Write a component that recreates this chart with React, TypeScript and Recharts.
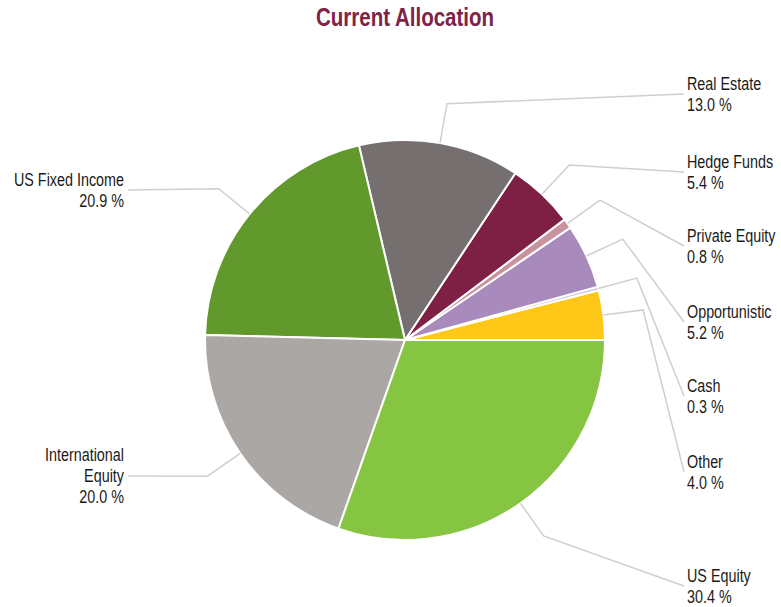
import React from 'react';
import { PieChart, Pie, Cell } from 'recharts';

// slices in drawing order, counter-clockwise from 3 o'clock
const names = [
  'Other',
  'Cash',
  'Opportunistic',
  'Private Equity',
  'Hedge Funds',
  'Real Estate',
  'US Fixed Income',
  'International\nEquity',
  'US Equity',
];
const values = [4.0, 0.3, 5.2, 0.8, 5.4, 13.0, 20.9, 20.0, 30.4];
const colors = [
  '#FFC819',
  '#D6C6E0',
  '#A88BBC',
  '#C8939E',
  '#7E2043',
  '#756F6F',
  '#62992D',
  '#ABA7A5',
  '#86C541',
];

// where each label's leader line ends
const labelY = [472, 396, 322, 246, 172, 94, 190, 476, 586];
const RIGHT_X = 684;
const LEFT_X = 128;

// no narrow font installed, so squeeze Liberation Sans horizontally
const FONT = "'Liberation Sans', Arial, sans-serif";
const NARROW = 0.82;
const RADIAN = Math.PI / 180;

const data = names.map((name, i) => ({ name, value: values[i] }));

const renderLabel = (props: any) => {
  const { cx, cy, midAngle, outerRadius, index } = props;
  const cos = Math.cos(-midAngle * RADIAN);
  const sin = Math.sin(-midAngle * RADIAN);
  const sx = cx + outerRadius * cos;
  const sy = cy + outerRadius * sin;
  const mx = cx + (outerRadius + 40) * cos;
  const my = cy + (outerRadius + 40) * sin;
  const right = cos >= 0;
  const ex = right ? RIGHT_X : LEFT_X;
  const ey = labelY[index];
  const lines = [...names[index].split('\n'), `${values[index].toFixed(1)} %`];
  const step = 21;
  const top = ey - ((lines.length - 1) * step) / 2;
  const tx = right ? ex + 3 : ex - 4;
  return (
    <g key={`lbl-${index}`}>
      <polyline
        points={`${sx},${sy} ${mx},${my} ${ex},${ey}`}
        fill="none"
        stroke="#CFCFCF"
        strokeWidth={1.5}
      />
      {lines.map((ln, j) => (
        <text
          key={j}
          x={0}
          y={0}
          transform={`translate(${tx},${top + j * step}) scale(${NARROW},1)`}
          textAnchor={right ? 'start' : 'end'}
          dominantBaseline="central"
          fill="#1a1a1a"
          fontSize={17.5}
          fontFamily={FONT}
        >
          {ln}
        </text>
      ))}
    </g>
  );
};

const App: React.FC = () => {
  return (
    <div style={{ position: 'absolute', left: 0, top: 0, width: 781, height: 607, background: '#fff' }}>
      <div
        style={{
          position: 'absolute',
          left: 0,
          width: 810,
          top: 3,
          textAlign: 'center',
          fontFamily: FONT,
          fontWeight: 'bold',
          fontSize: 25,
          color: '#7D2348',
          transform: `scaleX(${NARROW})`,
          transformOrigin: '405px 0',
        }}
      >
        Current Allocation
      </div>
      <PieChart width={781} height={607} margin={{ top: 0, right: 0, bottom: 0, left: 0 }}>
        <Pie
          data={data}
          dataKey="value"
          nameKey="name"
          cx={405}
          cy={340}
          outerRadius={200}
          startAngle={0}
          endAngle={360}
          stroke="#ffffff"
          strokeWidth={2}
          label={renderLabel}
          labelLine={false}
          isAnimationActive={false}
        >
          {data.map((d, i) => (
            <Cell key={d.name} fill={colors[i]} />
          ))}
        </Pie>
      </PieChart>
    </div>
  );
};

export default App;
